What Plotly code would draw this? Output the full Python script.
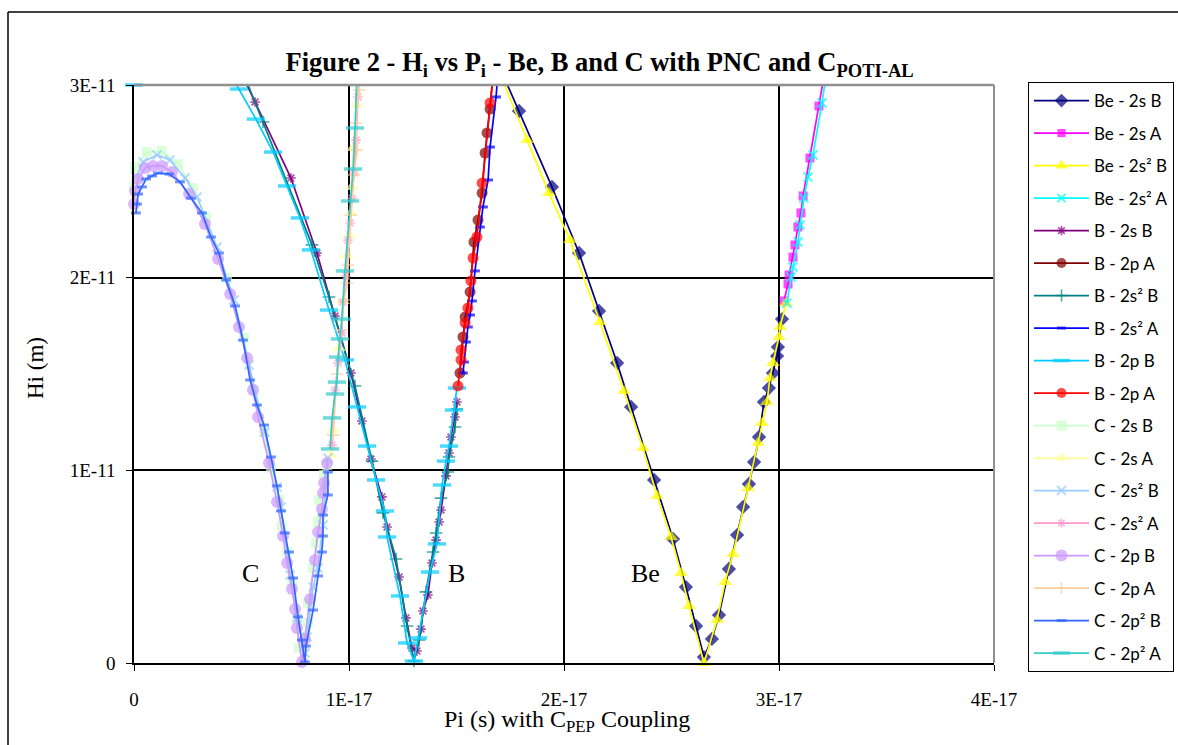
import plotly.graph_objects as go

# Units: P in 1E-17 s, H in 1E-11 m
X_UNIT = 1e-17
Y_UNIT = 1e-11

be_2s_B_x = [1.660, 1.791, 1.944, 2.070, 2.163, 2.247, 2.312, 2.419, 2.507, 2.567, 2.614, 2.651,
             2.688, 2.721, 2.767, 2.805, 2.833, 2.860, 2.884, 2.907, 2.930, 2.953, 2.972, 2.991, 2.995, 3.014]
be_2s_B_y = [3.197, 2.865, 2.471, 2.128, 1.827, 1.557, 1.329, 0.950, 0.644, 0.394, 0.192, 0.031,
             0.125, 0.249, 0.488, 0.664, 0.810, 0.929, 1.043, 1.173, 1.355, 1.427, 1.505, 1.593, 1.640, 1.785]

be_2s_A_x = [3.023, 3.042, 3.047, 3.065, 3.074, 3.088, 3.102, 3.112, 3.144, 3.186, 3.233]
be_2s_A_y = [1.879, 1.967, 2.014, 2.107, 2.170, 2.263, 2.336, 2.424, 2.621, 2.891, 3.197]

be_2s2_B_x = [1.651, 1.828, 1.930, 2.028, 2.167, 2.279, 2.367, 2.433, 2.498, 2.544, 2.581, 2.651,
              2.712, 2.749, 2.786, 2.856, 2.902, 2.921, 2.944, 2.958, 2.972, 3.000, 3.005, 3.033]
be_2s2_B_y = [3.197, 2.714, 2.439, 2.195, 1.770, 1.412, 1.116, 0.867, 0.654, 0.467, 0.296, 0.000,
              0.223, 0.420, 0.566, 0.908, 1.142, 1.246, 1.355, 1.479, 1.557, 1.692, 1.744, 1.868]

be_2s2_A_x = [3.037, 3.056, 3.065, 3.088, 3.098, 3.116, 3.135, 3.158, 3.200, 3.237]
be_2s2_A_y = [1.868, 2.003, 2.055, 2.185, 2.273, 2.413, 2.522, 2.637, 2.907, 3.182]

b_2s_B_x = [0.442, 0.563, 0.730, 0.851, 0.935, 1.009, 1.060, 1.102, 1.153, 1.177, 1.233, 1.265, 1.293,
            1.316, 1.335, 1.344, 1.367, 1.386, 1.405, 1.419, 1.428, 1.451, 1.465, 1.474, 1.493, 1.502]
b_2s_B_y = [3.197, 2.912, 2.517, 2.128, 1.801, 1.505, 1.256, 1.059, 0.862, 0.706, 0.446, 0.234, 0.078,
            0.062, 0.176, 0.270, 0.353, 0.519, 0.638, 0.732, 0.794, 0.971, 1.090, 1.173, 1.277, 1.355]

b_2pA1_x = [1.516, 1.530, 1.540, 1.563, 1.581, 1.600, 1.619, 1.633, 1.642, 1.656, 1.684]
b_2pA1_y = [1.505, 1.692, 1.796, 1.926, 2.185, 2.299, 2.439, 2.647, 2.751, 2.875, 3.197]

b_2s2_B_x = [0.460, 0.600, 0.828, 0.907, 1.028, 1.107, 1.158, 1.219, 1.270, 1.302, 1.326, 1.358,
             1.391, 1.405, 1.428, 1.460, 1.465, 1.493, 1.502]
b_2s2_B_y = [3.197, 2.808, 2.170, 1.900, 1.438, 1.048, 0.779, 0.540, 0.192, 0.010, 0.119, 0.369,
             0.576, 0.675, 0.856, 0.991, 1.069, 1.225, 1.318]

b_2s2_A_x = [1.530, 1.535, 1.544, 1.553, 1.563, 1.572, 1.586, 1.609, 1.623, 1.647, 1.656, 1.684, 1.702]
b_2s2_A_y = [1.505, 1.562, 1.666, 1.744, 1.806, 1.879, 2.035, 2.263, 2.367, 2.507, 2.678, 2.938, 3.197]

b_2p_B_x = [0.0, None, 0.377, 0.488, 0.567, 0.647, 0.712, 0.772, 0.823, 0.907, 0.981, 1.037, 1.084, 1.126,
            1.167, 1.177, 1.237, 1.270, 1.302, 1.321, 1.377, 1.409, 1.433, 1.451, 1.465, 1.488, 1.502]
b_2p_B_y = [3.0, None, 3.197, 2.979, 2.823, 2.652, 2.476, 2.310, 2.144, 1.832, 1.573, 1.329, 1.126, 0.950,
            0.789, 0.654, 0.348, 0.104, 0.010, 0.130, 0.472, 0.618, 0.924, 1.048, 1.126, 1.313, 1.427]

b_2pA2_x = [1.507, 1.521, 1.521, 1.540, 1.553, 1.567, 1.577, 1.595, 1.619, 1.656, 1.684]
b_2pA2_y = [1.438, 1.573, 1.625, 1.765, 1.843, 1.983, 2.102, 2.211, 2.491, 2.907, 3.197]

c_2s_B_x = [0.000, 0.005, 0.060, 0.130, 0.205, 0.274, 0.335, 0.433, 0.512, 0.558, 0.605, 0.637, 0.674,
            0.688, 0.712, 0.735, 0.758, 0.767, 0.809, 0.809, 0.833, 0.847, 0.856, 0.860, 0.884, 0.898]
c_2s_B_y = [2.471, 2.574, 2.652, 2.657, 2.590, 2.465, 2.315, 1.998, 1.687, 1.417, 1.199, 1.012, 0.846,
            0.711, 0.576, 0.415, 0.223, 0.078, 0.208, 0.311, 0.493, 0.623, 0.732, 0.846, 0.976, 1.028]

c_2s_A_x = [0.916, 0.926, 0.953, 0.972, 0.991, 1.000, 1.009, 1.014, 1.019, 1.037, 1.051]
c_2s_A_y = [1.080, 1.209, 1.635, 1.879, 2.118, 2.221, 2.336, 2.471, 2.673, 2.896, 3.197]

c_2s2_B_x = [0.009, 0.042, 0.107, 0.167, 0.237, 0.293, 0.386, 0.465, 0.535, 0.609, 0.665, 0.684,
             0.726, 0.758, 0.795, 0.805, 0.833, 0.856, 0.879, 0.902]
c_2s2_B_y = [2.522, 2.600, 2.637, 2.611, 2.517, 2.419, 2.159, 1.884, 1.547, 1.199, 0.913, 0.810,
             0.457, 0.234, 0.052, 0.135, 0.394, 0.493, 0.716, 1.064]

c_2s2_A_x = [0.921, 0.935, 0.949, 0.967, 0.972, 0.986, 0.995, 1.005, 1.014, 1.023, 1.033, 1.042, 1.056]
c_2s2_A_y = [1.131, 1.417, 1.557, 1.713, 1.874, 2.009, 2.195, 2.284, 2.413, 2.543, 2.714, 2.938, 3.197]

c_2p_B_x = [0.000, 0.005, 0.019, 0.051, 0.088, 0.130, 0.177, 0.256, 0.330, 0.391, 0.447, 0.488, 0.526,
            0.553, 0.577, 0.628, 0.665, 0.693, 0.712, 0.735, 0.749, 0.758, 0.781, 0.795, 0.819, 0.842,
            0.856, 0.874, 0.879, 0.884, 0.898]
c_2p_B_y = [2.382, 2.450, 2.512, 2.569, 2.580, 2.580, 2.548, 2.434, 2.279, 2.097, 1.915, 1.744, 1.583,
            1.417, 1.277, 1.038, 0.836, 0.659, 0.519, 0.384, 0.280, 0.182, 0.005, 0.125, 0.332, 0.535,
            0.680, 0.799, 0.882, 0.934, 1.038]

c_2p_A_x = [0.926, 0.944, 0.963, 0.977, 0.991, 0.995, 1.009, 1.023, 1.037, 1.033, 1.047, 1.060]
c_2p_A_y = [1.183, 1.500, 1.728, 1.884, 1.972, 2.066, 2.325, 2.533, 2.663, 2.803, 2.974, 3.197]

c_2p2_B_x = [0.009, 0.014, 0.019, 0.037, 0.056, 0.084, 0.112, 0.163, 0.214, 0.265, 0.316, 0.358, 0.395,
             0.428, 0.470, 0.507, 0.540, 0.572, 0.605, 0.637, 0.665, 0.684, 0.702, 0.721, 0.740, 0.763,
             0.781, 0.795, 0.800, 0.833, 0.856, 0.874, 0.879, 0.879, 0.902, 0.902]
c_2p2_B_y = [2.336, 2.382, 2.434, 2.471, 2.512, 2.528, 2.543, 2.538, 2.497, 2.413, 2.336, 2.211, 2.128,
             1.988, 1.853, 1.676, 1.469, 1.339, 1.235, 1.069, 0.919, 0.789, 0.675, 0.576, 0.441, 0.239,
             0.119, 0.005, 0.088, 0.275, 0.452, 0.576, 0.659, 0.768, 0.872, 0.991]

c_2p2_A_x = [0.912, 0.921, 0.935, 0.944, 0.949, 0.958, 0.967, 0.981, 1.005, 1.019, 1.028, 1.042]
c_2p2_A_y = [1.111, 1.272, 1.396, 1.458, 1.588, 1.682, 1.785, 2.035, 2.398, 2.564, 2.777, 3.197]

x_tick_vals = [0, 1, 2, 3, 4]
x_tick_text = ["0", "1E-17", "2E-17", "3E-17", "4E-17"]
y_tick_vals = [0, 1, 2, 3]
y_tick_text = ["0", "1E-11", "2E-11", "3E-11"]

series = [
    ("Be - 2s B", be_2s_B_x, be_2s_B_y, "#000080", "diamond", 11, 0),
    ("Be - 2s A", be_2s_A_x, be_2s_A_y, "#FF00FF", "square", 9, 0),
    ("Be - 2s² B", be_2s2_B_x, be_2s2_B_y, "#FFFF00", "triangle-up", 12, 0),
    ("Be - 2s² A", be_2s2_A_x, be_2s2_A_y, "#00FFFF", "x-thin", 9, 2),
    ("B - 2s B", b_2s_B_x, b_2s_B_y, "#800080", "asterisk", 8, 1.6),
    ("B - 2p A", b_2pA1_x, b_2pA1_y, "#800000", "circle", 11, 0),
    ("B - 2s² B", b_2s2_B_x, b_2s2_B_y, "#008080", "cross-thin", 9, 1.6),
    ("B - 2s² A", b_2s2_A_x, b_2s2_A_y, "#0000FF", "line-ew", 7, 3),
    ("B - 2p B", b_2p_B_x, b_2p_B_y, "#00CCFF", "line-ew", 13, 3.5),
    ("B - 2p A", b_2pA2_x, b_2pA2_y, "#FF0000", "circle", 11, 0),
    ("C - 2s B", c_2s_B_x, c_2s_B_y, "#CCFFCC", "square", 10, 0),
    ("C - 2s A", c_2s_A_x, c_2s_A_y, "#FFFF99", "triangle-up", 12, 0),
    ("C - 2s² B", c_2s2_B_x, c_2s2_B_y, "#99CCFF", "x-thin", 9, 2),
    ("C - 2s² A", c_2s2_A_x, c_2s2_A_y, "#FF99CC", "asterisk", 8, 1.6),
    ("C - 2p B", c_2p_B_x, c_2p_B_y, "#CC99FF", "circle", 12, 0),
    ("C - 2p A", c_2p_A_x, c_2p_A_y, "#FFCC99", "cross-thin", 9, 1.6),
    ("C - 2p² B", c_2p2_B_x, c_2p2_B_y, "#3366FF", "line-ew", 7, 3),
    ("C - 2p² A", c_2p2_A_x, c_2p2_A_y, "#33CCCC", "line-ew", 13, 3.5),
]

LINE_SYMBOLS = {"x-thin", "asterisk", "cross-thin", "line-ew"}

fig = go.Figure()
for i, (name, xs, ys, color, symbol, size, lw) in enumerate(series):
    xv = [None if v is None else v * X_UNIT for v in xs]
    yv = [None if v is None else v * Y_UNIT for v in ys]
    sizes = [0 if (v is None or v > 3.0) else size for v in ys]
    if symbol in LINE_SYMBOLS:
        marker = dict(symbol=symbol, size=sizes, color=color, line=dict(color=color, width=lw))
    else:
        marker = dict(symbol=symbol, size=sizes, color=color, line=dict(width=0))
    fig.add_trace(go.Scatter(
        x=xv, y=yv, name=name, mode="lines+markers",
        line=dict(color=color, width=1.7), marker=marker,
        cliponaxis=False, legendgroup="g%d" % i,
    ))

serif = "Liberation Serif, Times New Roman, serif"

fig.update_layout(
    width=1178, height=745,
    margin=dict(l=134, r=184, t=85, b=82, autoexpand=False),
    paper_bgcolor="white", plot_bgcolor="white",
    showlegend=True,
    title=dict(
        text="<b>Figure 2 - H<sub>i</sub> vs P<sub>i</sub> - Be, B and C with PNC and C<sub>POTI-AL</sub></b>",
        font=dict(family=serif, size=26.5, color="black"),
        x=0.509, xref="container", xanchor="center",
        y=1 - 62 / 745, yref="container", yanchor="middle",
    ),
    legend=dict(
        x=(1028 - 134) / 860, xanchor="left",
        y=(663 - 82) / 578, yanchor="top",
        bgcolor="white", bordercolor="black", borderwidth=1,
        font=dict(family="Lato, Noto Sans, sans-serif", size=17, color="black"),
        tracegroupgap=7.4, itemwidth=55, maxheight=700,
    ),
    xaxis=dict(
        range=[0, 4 * X_UNIT], tickvals=[v * X_UNIT for v in x_tick_vals], ticktext=x_tick_text,
        showgrid=True, gridcolor="black", gridwidth=1.5, zeroline=False,
        showline=True, linecolor="black", linewidth=1.5,
        ticks="outside", ticklen=6, tickcolor="black", ticklabelstandoff=12,
        tickfont=dict(family=serif, size=19, color="black"), automargin=False,
    ),
    yaxis=dict(
        range=[0, 3 * Y_UNIT], tickvals=[v * Y_UNIT for v in y_tick_vals], ticktext=y_tick_text,
        showgrid=True, gridcolor="black", gridwidth=1.5, zeroline=False,
        showline=True, linecolor="black", linewidth=1.5,
        ticks="outside", ticklen=6, tickcolor="black", ticklabelstandoff=7,
        tickfont=dict(family=serif, size=19, color="black"), automargin=False,
    ),
    shapes=[
        dict(type="line", xref="paper", yref="paper", x0=0, x1=1, y0=1, y1=1,
             line=dict(color="#909090", width=2.5), layer="above"),
        dict(type="line", xref="paper", yref="paper", x0=1, x1=1, y0=0, y1=1,
             line=dict(color="#909090", width=2), layer="above"),
        dict(type="line", xref="paper", yref="paper", x0=(8 - 134) / 860, x1=(8 - 134) / 860,
             y0=-0.3, y1=(663 - 12) / 578, line=dict(color="black", width=1.5)),
        dict(type="line", xref="paper", yref="paper", x0=(8 - 134) / 860, x1=1.3,
             y0=(663 - 12) / 578, y1=(663 - 12) / 578, line=dict(color="black", width=1.5)),
    ],
    annotations=[
        dict(text="Hi (m)", xref="paper", yref="paper", x=(35 - 134) / 860, y=(663 - 368) / 578,
             textangle=-90, showarrow=False, xanchor="center", yanchor="middle",
             font=dict(family=serif, size=23, color="black")),
        dict(text="Pi (s) with C<sub>PEP</sub> Coupling", xref="paper", yref="paper",
             x=(567 - 134) / 860, y=(663 - 721) / 578, showarrow=False,
             xanchor="center", yanchor="middle", font=dict(family=serif, size=24, color="black")),
        dict(text="C", x=0.54 * X_UNIT, y=0.467 * Y_UNIT, showarrow=False,
             font=dict(family=serif, size=26, color="black")),
        dict(text="B", x=1.50 * X_UNIT, y=0.467 * Y_UNIT, showarrow=False,
             font=dict(family=serif, size=26, color="black")),
        dict(text="Be", x=2.377 * X_UNIT, y=0.467 * Y_UNIT, showarrow=False,
             font=dict(family=serif, size=26, color="black")),
    ],
)

fig.write_html("out.html", config={"displayModeBar": False},
               post_script="document.body.style.margin='0';document.body.style.overflow='hidden';")
